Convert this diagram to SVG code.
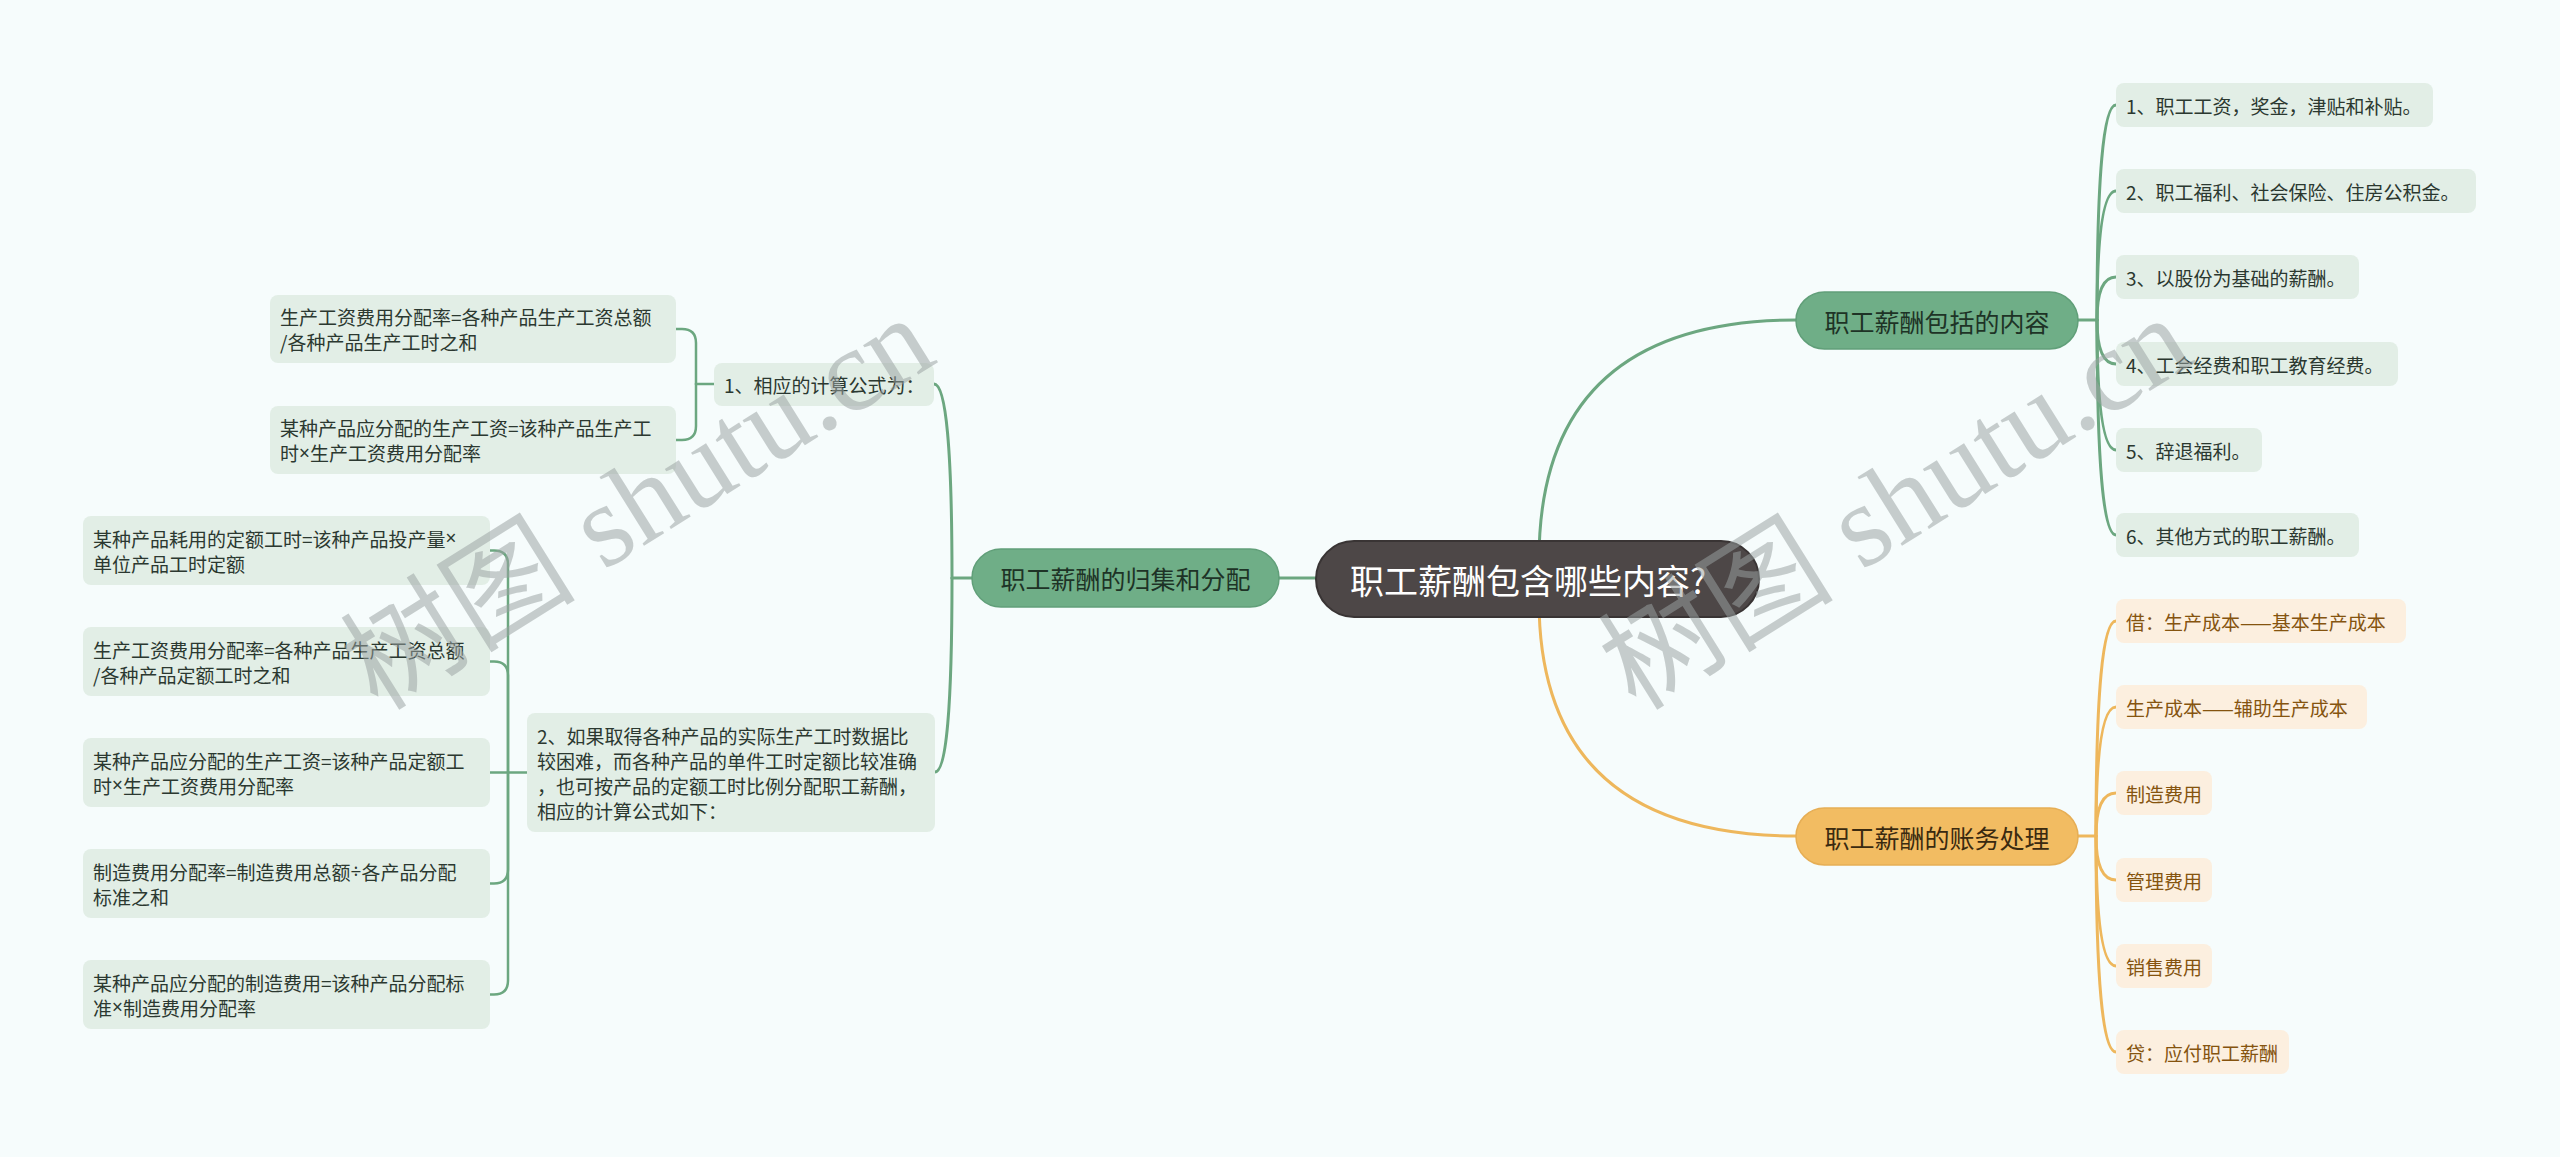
<svg xmlns="http://www.w3.org/2000/svg" width="2560" height="1157" viewBox="0 0 2560 1157">
<style>
text { font-family: "Noto Sans CJK SC", "Noto Sans", sans-serif; dominant-baseline: central; }
.lat { font-family: "Noto Sans", sans-serif; }
.root rect { fill: #4d4747; stroke: #393434; stroke-width: 2; }
.root text { fill: #ffffff; font-size: 34px; text-anchor: middle; }
.bg rect { fill: #6fae87; stroke: #619f79; stroke-width: 1.5; }
.bg text { fill: #1e3326; font-size: 25px; text-anchor: middle; }
.bo rect { fill: #f2bc62; stroke: #e6ae55; stroke-width: 1.5; }
.bo text { fill: #3a2a10; font-size: 25px; text-anchor: middle; }
.lg rect { fill: #e2eee6; }
.lg text { fill: #2b3830; font-size: 19px; }
.lo rect { fill: #fcefdf; }
.lo text { fill: #85540f; font-size: 19px; }
.cg { fill: none; stroke: #6ca780; stroke-width: 3; stroke-linecap: round; }
.cgt { fill: none; stroke: #6ca780; stroke-width: 2.5; stroke-linecap: round; }
.co { fill: none; stroke: #eeb75c; stroke-width: 3; stroke-linecap: round; }
.wm { font-family: "Liberation Serif", "Noto Sans CJK SC", serif; font-size: 118px; fill: #9aa2a2; opacity: 0.52; dominant-baseline: auto; }
</style>
<rect x="0" y="0" width="2560" height="1157" fill="#f6fcfc"/>

<g id="connectors">
  <path class="cg" d="M1539,560 Q1539,320 1797,320"/>
  <path class="co" d="M1539,600 Q1539,836 1797,836"/>
  <path class="cg" d="M1316,578 L1279,578"/>
  <path class="cg" d="M2078,320 L2097,320"/>
  <path class="cg" d="M2097,320 Q2097,105 2116,105"/>
  <path class="cg" d="M2097,320 Q2097,191 2116,191"/>
  <path class="cg" d="M2097,320 Q2097,277 2116,277"/>
  <path class="cg" d="M2097,320 Q2097,364 2116,364"/>
  <path class="cg" d="M2097,320 Q2097,450 2116,450"/>
  <path class="cg" d="M2097,320 Q2097,535 2116,535"/>
  <path class="co" d="M2078,836 L2096,836"/>
  <path class="co" d="M2096,836 Q2096,621 2116,621"/>
  <path class="co" d="M2096,836 Q2096,707 2116,707"/>
  <path class="co" d="M2096,836 Q2096,793 2116,793"/>
  <path class="co" d="M2096,836 Q2096,880 2116,880"/>
  <path class="co" d="M2096,836 Q2096,966 2116,966"/>
  <path class="co" d="M2096,836 Q2096,1052 2116,1052"/>
  <path class="cg" d="M972,578 L952,578"/>
  <path class="cg" d="M952,578 Q952,384 934,384"/>
  <path class="cg" d="M952,578 Q952,772 935,772"/>
  <path class="cgt" d="M714,384 L696,384"/>
  <path class="cgt" d="M696,384 L696,343 Q696,329 682,329 L676,329"/>
  <path class="cgt" d="M696,384 L696,426 Q696,440 682,440 L676,440"/>
  <path class="cgt" d="M527,772.5 L490,772.5"/>
  <path class="cgt" d="M508,772.5 L508,564.5 Q508,550.5 494,550.5 L490,550.5"/>
  <path class="cgt" d="M508,772.5 L508,675.5 Q508,661.5 494,661.5 L490,661.5"/>
  <path class="cgt" d="M508,772.5 L508,869.5 Q508,883.5 494,883.5 L490,883.5"/>
  <path class="cgt" d="M508,772.5 L508,980.5 Q508,994.5 494,994.5 L490,994.5"/>
</g>

<g id="root" class="root">
  <rect x="1316" y="541" width="443" height="76" rx="38"/>
  <text x="1528" y="579">职工薪酬包含哪些内容?</text>
</g>

<g id="b-content" class="bg">
  <rect x="1796" y="292" width="282" height="57" rx="28.5"/>
  <text x="1937" y="320.5">职工薪酬包括的内容</text>
</g>
<g id="b-account" class="bo">
  <rect x="1796" y="808" width="282" height="57" rx="28.5"/>
  <text x="1937" y="836.5">职工薪酬的账务处理</text>
</g>
<g id="b-alloc" class="bg">
  <rect x="972" y="549" width="307" height="58" rx="29"/>
  <text x="1125.5" y="578">职工薪酬的归集和分配</text>
</g>

<g id="c1" class="lg"><rect x="2116" y="83" width="317" height="44" rx="8"/><text x="2126" y="105">1、职工工资，奖金，津贴和补贴。</text></g>
<g id="c2" class="lg"><rect x="2116" y="169" width="360" height="44" rx="8"/><text x="2126" y="191">2、职工福利、社会保险、住房公积金。</text></g>
<g id="c3" class="lg"><rect x="2116" y="255" width="243" height="44" rx="8"/><text x="2126" y="277">3、以股份为基础的薪酬。</text></g>
<g id="c4" class="lg"><rect x="2116" y="342" width="282" height="44" rx="8"/><text x="2126" y="364">4、工会经费和职工教育经费。</text></g>
<g id="c5" class="lg"><rect x="2116" y="428" width="146" height="44" rx="8"/><text x="2126" y="450">5、辞退福利。</text></g>
<g id="c6" class="lg"><rect x="2116" y="513" width="243" height="44" rx="8"/><text x="2126" y="535">6、其他方式的职工薪酬。</text></g>

<g id="o1" class="lo"><rect x="2116" y="599" width="290" height="44" rx="8"/><text x="2126" y="621">借：生产成本——基本生产成本</text></g>
<g id="o2" class="lo"><rect x="2116" y="685" width="251" height="44" rx="8"/><text x="2126" y="707">生产成本——辅助生产成本</text></g>
<g id="o3" class="lo"><rect x="2116" y="771" width="96" height="44" rx="8"/><text x="2126" y="793">制造费用</text></g>
<g id="o4" class="lo"><rect x="2116" y="858" width="96" height="44" rx="8"/><text x="2126" y="880">管理费用</text></g>
<g id="o5" class="lo"><rect x="2116" y="944" width="96" height="44" rx="8"/><text x="2126" y="966">销售费用</text></g>
<g id="o6" class="lo"><rect x="2116" y="1030" width="173" height="44" rx="8"/><text x="2126" y="1052">贷：应付职工薪酬</text></g>

<g id="l1" class="lg"><rect x="714" y="363" width="220" height="43" rx="8"/><text x="724" y="384.5">1、相应的计算公式为：</text></g>
<g id="l1a" class="lg"><rect x="270" y="295" width="406" height="68" rx="8"/><text x="280" y="316.5">生产工资费用分配率=各种产品生产工资总额</text><text x="280" y="341.5">/各种产品生产工时之和</text></g>
<g id="l1b" class="lg"><rect x="270" y="406" width="406" height="68" rx="8"/><text x="280" y="427.5">某种产品应分配的生产工资=该种产品生产工</text><text x="280" y="452.5">时<tspan class="lat">×</tspan>生产工资费用分配率</text></g>

<g id="l2" class="lg"><rect x="527" y="713" width="408" height="119" rx="8"/>
  <text x="537" y="735">2、如果取得各种产品的实际生产工时数据比</text>
  <text x="537" y="760">较困难，而各种产品的单件工时定额比较准确</text>
  <text x="537" y="785">，也可按产品的定额工时比例分配职工薪酬，</text>
  <text x="537" y="810">相应的计算公式如下：</text>
</g>
<g id="l2a" class="lg"><rect x="83" y="516" width="407" height="69" rx="8"/><text x="93" y="538">某种产品耗用的定额工时=该种产品投产量<tspan class="lat">×</tspan></text><text x="93" y="563">单位产品工时定额</text></g>
<g id="l2b" class="lg"><rect x="83" y="627" width="407" height="69" rx="8"/><text x="93" y="649">生产工资费用分配率=各种产品生产工资总额</text><text x="93" y="674">/各种产品定额工时之和</text></g>
<g id="l2c" class="lg"><rect x="83" y="738" width="407" height="69" rx="8"/><text x="93" y="760">某种产品应分配的生产工资=该种产品定额工</text><text x="93" y="785">时<tspan class="lat">×</tspan>生产工资费用分配率</text></g>
<g id="l2d" class="lg"><rect x="83" y="849" width="407" height="69" rx="8"/><text x="93" y="871">制造费用分配率=制造费用总额<tspan class="lat">÷</tspan>各产品分配</text><text x="93" y="896">标准之和</text></g>
<g id="l2e" class="lg"><rect x="83" y="960" width="407" height="69" rx="8"/><text x="93" y="982">某种产品应分配的制造费用=该种产品分配标</text><text x="93" y="1007">准<tspan class="lat">×</tspan>制造费用分配率</text></g>

<g id="watermark">
  <text class="wm" transform="translate(378,712) rotate(-32)">树图 shutu.cn</text>
  <text class="wm" transform="translate(1636,712) rotate(-32)">树图 shutu.cn</text>
</g>
</svg>
